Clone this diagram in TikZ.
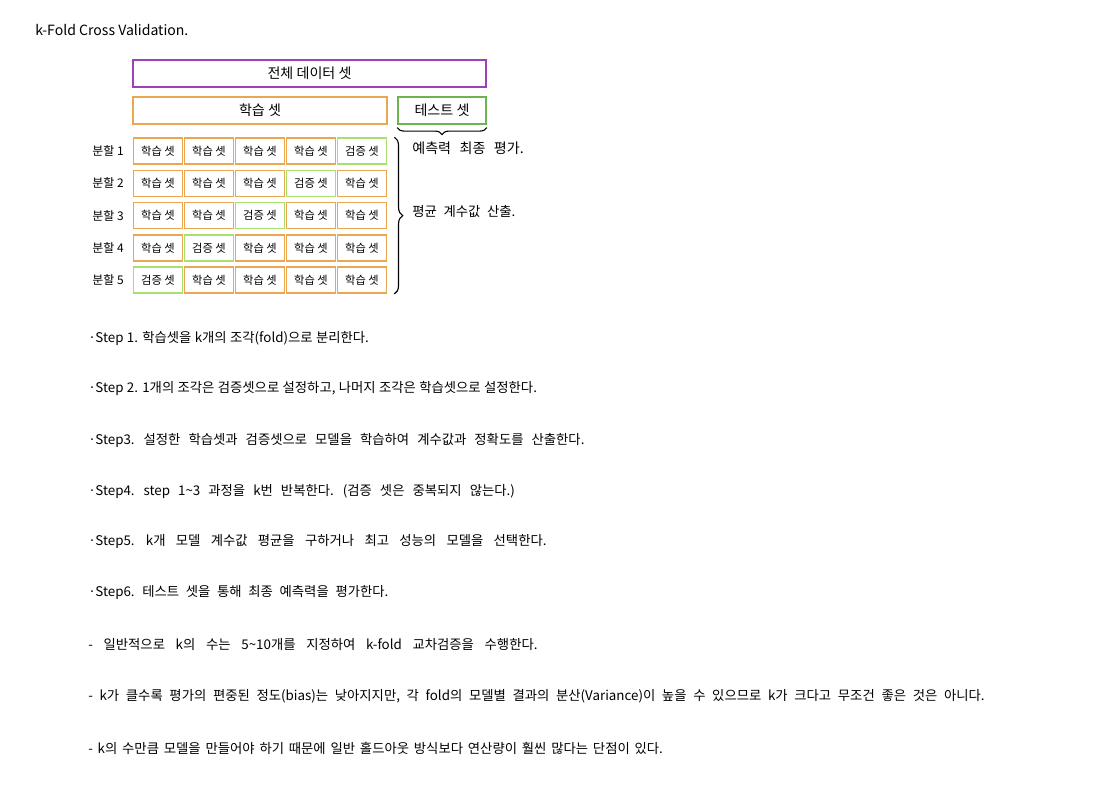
\documentclass[tikz,border=0pt]{standalone}
\usepackage{fontspec}
\setmainfont{Noto Sans CJK KR}
\usetikzlibrary{decorations.pathreplacing}
\definecolor{boxpurple}{RGB}{160,64,184}
\definecolor{boxorange}{RGB}{235,166,80}
\definecolor{boxgreen}{RGB}{109,179,80}
\definecolor{valgreen}{RGB}{168,224,112}
\newcommand\handgap[1]{\spaceskip=#1\relax}
\begin{document}
\begin{tikzpicture}[x=0.025cm,y=-0.025cm,
  every node/.style={font={\fontsize{9.5}{11}\selectfont\handgap{0.5em}},inner sep=0pt},
  setbox/.style={draw,line width=1.1pt,minimum height=0.675cm,font={\fontsize{10}{12}\selectfont}},
  cell/.style={draw=boxorange,line width=1.1pt,minimum width=1.225cm,minimum height=0.65cm,font={\fontsize{8}{10}\selectfont}},
  valcell/.style={cell,draw=valgreen},
  note/.style={anchor=west,font={\fontsize{9.5}{11}\selectfont\handgap{#1}}},
  note/.default=0.5em]
\useasboundingbox (0,0) rectangle (1098,786);
\node[anchor=west,font={\fontsize{10}{12}\selectfont}] (title) at (35,30) {k-Fold Cross Validation.};
% data split boxes
\node[setbox,draw=boxpurple,minimum width=8.825cm] (all) at (309.5,73.5) {전체 데이터 셋};
\node[setbox,draw=boxorange,minimum width=6.35cm] (train) at (260,110.5) {학습 셋};
\node[setbox,draw=boxgreen,minimum width=2.2cm] (test) at (442,110.5) {테스트 셋};
% folds: validation cell moves one step left per row
\foreach \r in {1,...,5}{
  \node[anchor=east,font={\fontsize{8.5}{10}\selectfont}] (lab-\r) at (124,{151+32.3*(\r-1)}) {분할 \r};
  \foreach \c in {1,...,5}{
    \pgfmathtruncatemacro{\v}{6-\r}
    \ifnum\c=\v \def\cs{valcell}\def\ct{검증 셋}\else\def\cs{cell}\def\ct{학습 셋}\fi
    \node[\cs] (c-\r-\c) at ({158+51*(\c-1)},{151+32.3*(\r-1)}) {\ct};
  }
}
\draw[line width=0.8pt,decorate,decoration={brace,amplitude=5pt,mirror}] ([yshift=-2pt]test.south west) -- ([yshift=-2pt]test.south east);
\node[font={\fontsize{10}{12}\selectfont\handgap{0.6em}}] (testnote) at (468,148) {예측력 최종 평가.};
\draw[line width=0.8pt,decorate,decoration={brace,amplitude=6pt}] ([xshift=5pt]c-1-5.north east) -- ([xshift=5pt]c-5-5.south east);
\node[note] (avgnote) at (412,211) {평균 계수값 산출.};
% steps
\node[note=0.25em] (s1) at (88,338) {·Step 1. 학습셋을 k개의 조각(fold)으로 분리한다.};
\node[note=0.25em] (s2) at (88,388) {·Step 2. 1개의 조각은 검증셋으로 설정하고, 나머지 조각은 학습셋으로 설정한다.};
\node[note=0.6em] (s3) at (88,440) {·Step3. 설정한 학습셋과 검증셋으로 모델을 학습하여 계수값과 정확도를 산출한다.};
\node[note=0.6em] (s4) at (88,492) {·Step4. step 1\textasciitilde3 과정을 k번 반복한다. (검증 셋은 중복되지 않는다.)};
\node[note=0.77em] (s5) at (88,542) {·Step5. k개 모델 계수값 평균을 구하거나 최고 성능의 모델을 선택한다.};
\node[note] (s6) at (88,592) {·Step6. 테스트 셋을 통해 최종 예측력을 평가한다.};
\node[note=0.8em] (n1) at (88,645) {- 일반적으로 k의 수는 5\textasciitilde10개를 지정하여 k-fold 교차검증을 수행한다.};
\node[note] (n2) at (88,696) {- k가 클수록 평가의 편중된 정도(bias)는 낮아지지만, 각 fold의 모델별 결과의 분산(Variance)이 높을 수 있으므로 k가 크다고 무조건 좋은 것은 아니다.};
\node[note=0.36em] (n3) at (88,748) {- k의 수만큼 모델을 만들어야 하기 때문에 일반 홀드아웃 방식보다 연산량이 훨씬 많다는 단점이 있다.};
\end{tikzpicture}
\end{document}
